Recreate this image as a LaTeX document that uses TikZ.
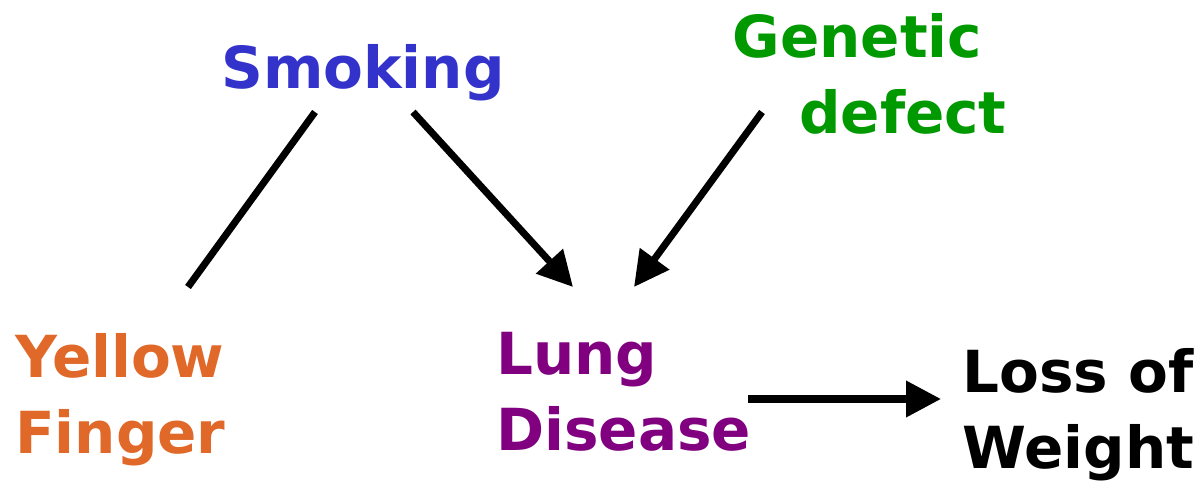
\documentclass[tikz,border=0pt]{standalone}
\usepackage{fontspec}
\setmainfont{DejaVu Sans}
\usepackage{xcolor}
\usepackage{tikz}
\usetikzlibrary{arrows.meta, calc}
\definecolor{smokeblue}{RGB}{51,51,204}
\definecolor{genegreen}{RGB}{0,153,0}
\definecolor{fingerorange}{RGB}{224,104,40}
\definecolor{lungpurple}{RGB}{128,0,128}
\begin{document}
\begin{tikzpicture}[x=0.02cm, y=-0.02cm,
    lbl/.style={inner sep=0pt, align=left, font=\fontsize{33}{43}\selectfont\bfseries},
    link/.style={line width=4pt},
    arr/.style={link, -{Triangle[length=0.7cm, width=0.7cm]}}
]
\useasboundingbox (0,0) rectangle (1195,483);
\node[lbl, smokeblue, anchor=base] (smoking) at (363,89) {Smoking};
\node[lbl, genegreen, align=right, anchor=base east] (genetic) at (1007,133) {Genetic\kern14pt\\defect};
\node[lbl, fingerorange, anchor=base west] (yellow) at (15,453) {Yellow\\Finger};
\node[lbl, lungpurple, anchor=base west] (lung) at (496,450) {Lung\\Disease};
\node[lbl, anchor=base west] (loss) at (962,468) {Loss of\\Weight};
\draw[link] ($(smoking.base)+(-48,23)$) -- ($(yellow.base west)+(173,-166)$);
\draw[arr] ($(smoking.base)+(50,23)$) -- ($(lung.base west)+(77,-163)$);
\draw[arr] ($(genetic.base east)+(-245,-21)$) -- ($(lung.base west)+(138,-163)$);
\draw[arr] ($(lung.base west)+(252,-51)$) -- ($(loss.base west)+(-21,-69)$);
\end{tikzpicture}
\end{document}
